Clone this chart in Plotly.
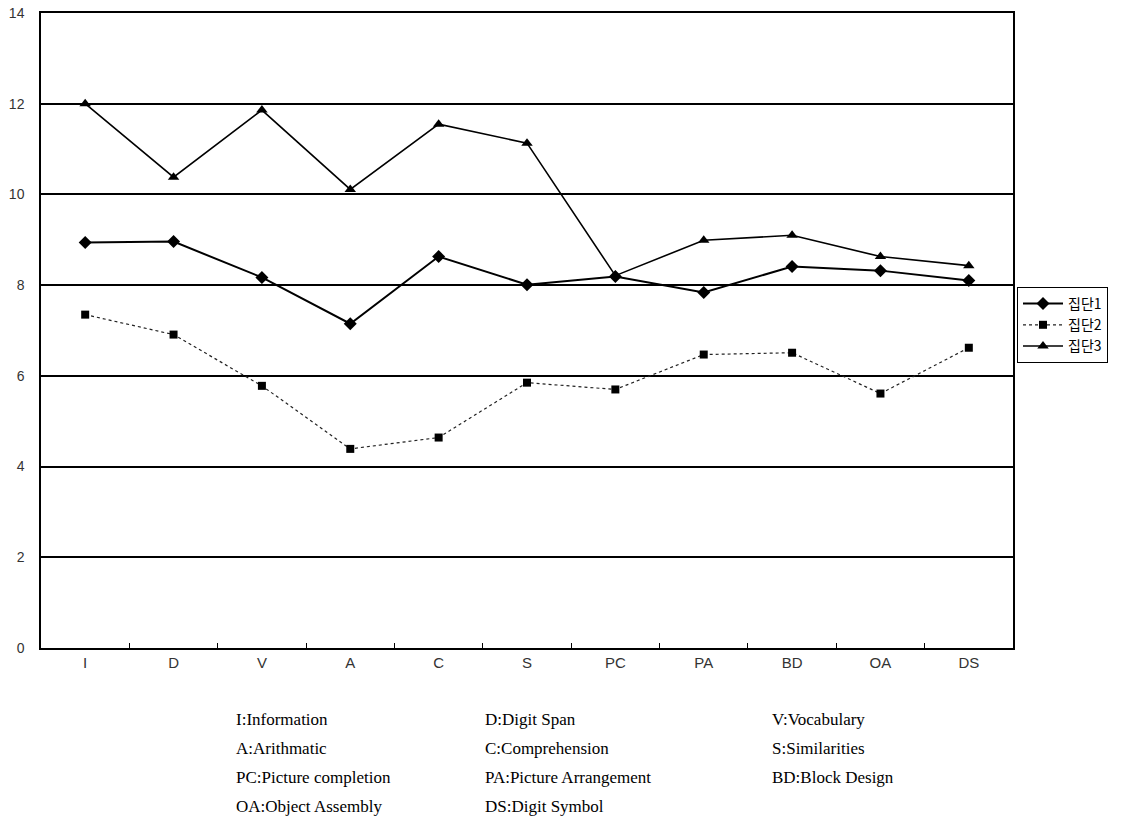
import plotly.graph_objects as go

categories = ["I", "D", "V", "A", "C", "S", "PC", "PA", "BD", "OA", "DS"]
group1 = [8.94, 8.96, 8.17, 7.15, 8.63, 8.01, 8.19, 7.84, 8.41, 8.32, 8.10]
group2 = [7.35, 6.91, 5.78, 4.39, 4.64, 5.85, 5.70, 6.47, 6.51, 5.61, 6.62]
group3 = [12.0, 10.38, 11.86, 10.11, 11.55, 11.13, 8.21, 8.99, 9.10, 8.63, 8.43]
series_names = ["집단1", "집단2", "집단3"]
y_ticks = [0, 2, 4, 6, 8, 10, 12, 14]
notes = [
    ["I:Information", "D:Digit Span", "V:Vocabulary"],
    ["A:Arithmatic", "C:Comprehension", "S:Similarities"],
    ["PC:Picture completion", "PA:Picture Arrangement", "BD:Block Design"],
    ["OA:Object Assembly", "DS:Digit Symbol", ""],
]

fig = go.Figure()
fig.add_trace(go.Scatter(x=categories, y=group1, name=series_names[0], mode="lines+markers",
                         line=dict(color="black", width=2),
                         marker=dict(symbol="diamond", size=10, color="black")))
fig.add_trace(go.Scatter(x=categories, y=group2, name=series_names[1], mode="lines+markers",
                         line=dict(color="#222", width=1.2, dash="dot"),
                         marker=dict(symbol="square", size=8, color="black")))
fig.add_trace(go.Scatter(x=categories, y=group3, name=series_names[2], mode="lines+markers",
                         line=dict(color="black", width=1.6),
                         marker=dict(symbol="triangle-up", size=10, color="black")))

PL, PR, PT, PB = 41, 1013, 13, 648   # plot area in page pixels
W, H = 1125, 834
L, T = PL, PT
R = W - PR
B = H - PB
pw = PR - PL
ph = PB - PT

col_px = [234, 483, 770]
row_px = [719, 748, 777, 806]
for ri, row in enumerate(notes):
    for ci, txt in enumerate(row):
        if not txt:
            continue
        fig.add_annotation(text=txt, xref="paper", yref="paper",
                           x=(col_px[ci] - PL) / pw, y=(PB - row_px[ri]) / ph,
                           xanchor="left", yanchor="middle", showarrow=False,
                           font=dict(family="Liberation Serif", size=17, color="black"))

fig.update_layout(
    width=W, height=H,
    margin=dict(l=L, r=R, t=T, b=B, autoexpand=False),
    paper_bgcolor="white", plot_bgcolor="white",
    showlegend=True,
    legend=dict(x=(1017 - PL) / pw, y=(PB - 287) / ph, xanchor="left", yanchor="top",
                bgcolor="white", bordercolor="black", borderwidth=1,
                font=dict(family="Noto Sans CJK KR", size=14, color="black"),
                tracegroupgap=0, itemwidth=40),
    xaxis=dict(type="category", showgrid=False, showline=True, mirror=True,
               linecolor="black", linewidth=1.5, ticks="inside", tickson="boundaries",
               ticklen=5, tickcolor="black", automargin=False,
               tickfont=dict(family="Liberation Sans", size=15, color="#333"),
               range=[-0.5, 10.5]),
    yaxis=dict(range=[0, 14], tickvals=y_ticks, showgrid=True, gridcolor="black",
               gridwidth=1.5, showline=True, mirror=True, linecolor="black", linewidth=1.5,
               ticks="", ticklabelstandoff=12, zeroline=False, automargin=False,
               ticklabeloverflow="allow",
               tickfont=dict(family="Liberation Sans", size=14, color="#333")),
)

fig.write_html("out.html", config={"displayModeBar": False},
               post_script="document.body.style.margin='0';document.body.style.overflow='hidden';")
